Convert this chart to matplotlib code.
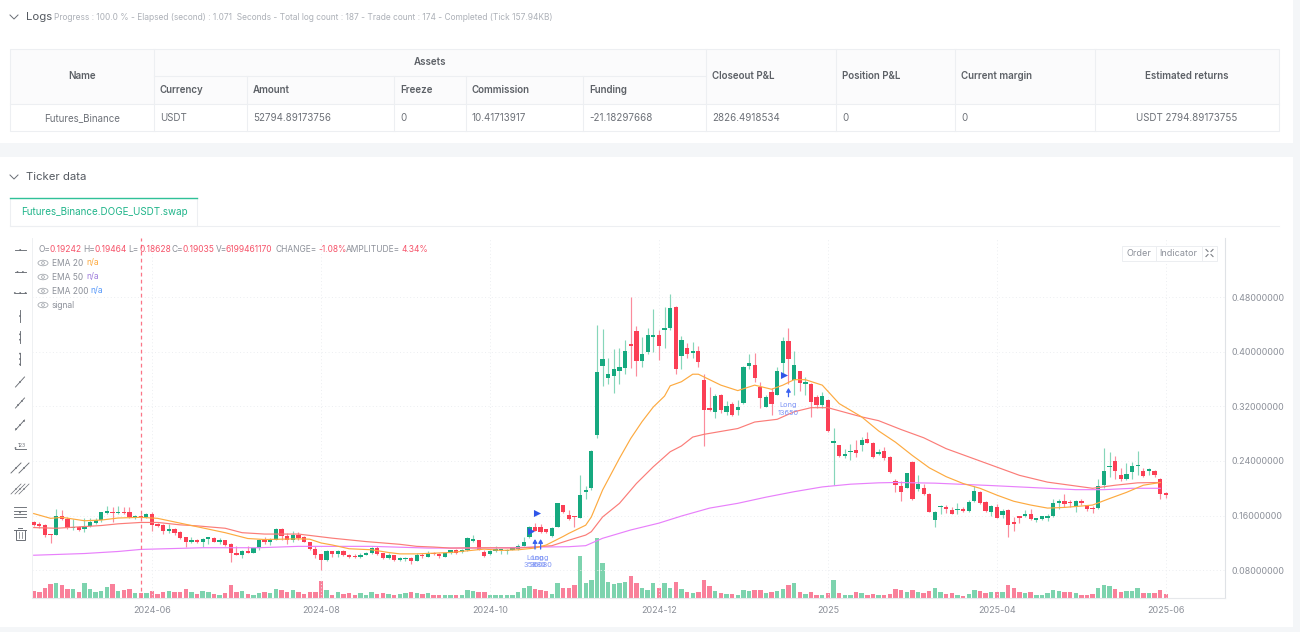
import matplotlib
matplotlib.use("Agg")
import matplotlib.pyplot as plt
from matplotlib.patches import Rectangle, Ellipse, Circle

plt.rcParams['font.family'] = ['Inter', 'DejaVu Sans']

# ---------- chart data (one candle per bar) ----------
opens = [.151,.147,.146,.133,.131,.160,.155,.1415,.1435,.140,.145,.149,.153,.164,.166,.164,.166,.165,.157,.160,
 .158,.163,.148,.146,.137,.141,.136,.128,.121,.124,.122,.126,.1275,.122,.124,.118,.106,.103,.108,.106,
 .112,.125,.122,.125,.141,.130,.125,.132,.1285,.122,.111,.104,.0955,.108,.104,.108,.103,.101,.100,.103,
 .105,.113,.105,.098,.102,.095,.096,.098,.094,.103,.100,.106,.104,.100,.105,.109,.107,.109,.123,.124,
 .107,.104,.108,.109,.108,.110,.111,.116,.128,.143,.143,.140,.130,.144,.175,.161,.159,.157,.195,.201,
 .278,.379,.362,.364,.371,.376,.411,.430,.386,.400,.421,.425,.432,.434,.466,.393,.405,.398,.401,.358,
 .317,.311,.337,.312,.324,.314,.325,.379,.381,.348,.319,.341,.337,.384,.415,.359,.371,.352,.353,.334,
 .322,.329,.267,.263,.247,.253,.256,.264,.272,.267,.250,.255,.246,.210,.203,.201,.239,.199,.201,.192,
 .153,.172,.172,.168,.168,.170,.167,.181,.195,.180,.165,.173,.161,.168,.150,.160,.160,.162,.153,.155,
 .156,.159,.178,.182,.180,.174,.181,.175,.171,.171,.205,.231,.240,.219,.213,.224,.232,.225,.226,.225,
 .214,.19242]
highs = [.152,.150,.1475,.133,.169,.168,.1585,.155,.145,.156,.156,.156,.166,.174,.173,.174,.173,.173,.161,.163,
 .164,.166,.149,.147,.147,.142,.137,.128,.128,.1255,.127,.128,.128,.127,.125,.120,.115,.109,.115,.1125,
 .126,.128,.127,.142,.142,.134,.137,.136,.130,.122,.115,.104,.109,.108,.110,.109,.104,.104,.105,.107,
 .114,.115,.106,.105,.103,.099,.100,.099,.105,.105,.108,.107,.106,.106,.110,.111,.111,.128,.132,.125,
 .109,.110,.115,.111,.111,.112,.119,.128,.145,.149,.148,.141,.143,.179,.176,.168,.160,.219,.203,.256,
 .439,.433,.391,.404,.406,.417,.480,.437,.422,.434,.463,.431,.466,.484,.467,.423,.413,.414,.409,.367,
 .349,.338,.338,.328,.327,.329,.379,.397,.398,.355,.336,.347,.378,.422,.434,.401,.372,.363,.354,.336,
 .341,.330,.288,.263,.258,.265,.270,.275,.283,.268,.257,.261,.247,.213,.210,.223,.240,.219,.207,.193,
 .167,.175,.176,.173,.178,.172,.183,.204,.196,.181,.175,.177,.169,.169,.158,.160,.168,.169,.157,.1595,
 .162,.185,.184,.192,.183,.183,.184,.176,.174,.214,.259,.253,.247,.229,.237,.238,.254,.229,.230,.227,
 .215,.19464]
lows = [.1455,.1415,.129,.120,.131,.154,.1405,.1395,.138,.136,.144,.148,.151,.163,.150,.162,.162,.157,.155,.156,
 .157,.137,.143,.133,.134,.131,.126,.114,.120,.120,.114,.119,.121,.119,.116,.092,.102,.098,.105,.105,
 .110,.118,.117,.124,.125,.119,.122,.125,.121,.110,.098,.080,.093,.100,.099,.101,.098,.098,.098,.102,
 .104,.103,.096,.097,.094,.094,.093,.089,.093,.098,.099,.103,.098,.099,.104,.104,.106,.108,.121,.109,
 .100,.103,.107,.104,.104,.109,.110,.115,.127,.137,.135,.135,.129,.143,.164,.154,.143,.156,.184,.197,
 .274,.350,.352,.339,.353,.367,.376,.364,.377,.396,.399,.388,.406,.431,.367,.375,.391,.391,.377,.262,
 .313,.303,.310,.308,.306,.308,.324,.375,.356,.318,.319,.307,.336,.368,.353,.336,.343,.337,.305,.318,
 .317,.283,.205,.246,.244,.241,.246,.254,.266,.245,.249,.242,.222,.195,.181,.200,.183,.196,.190,.165,
 .143,.163,.164,.162,.163,.165,.166,.180,.177,.166,.160,.156,.157,.129,.137,.149,.158,.154,.151,.153,
 .152,.158,.169,.173,.173,.166,.175,.167,.164,.170,.200,.217,.214,.211,.212,.214,.219,.216,.219,.217,
 .185,.18628]
closes = [.146,.1455,.132,.131,.160,.155,.1415,.1425,.139,.145,.150,.153,.165,.167,.164,.166,.164,.158,.160,.158,
 .163,.146,.145,.137,.141,.134,.127,.121,.124,.121,.126,.1275,.122,.124,.117,.105,.103,.108,.106,.112,
 .125,.121,.125,.141,.130,.125,.131,.127,.122,.111,.103,.0955,.108,.104,.108,.102,.100,.099,.103,.106,
 .113,.104,.098,.102,.095,.098,.098,.093,.103,.101,.106,.104,.101,.105,.109,.106,.109,.127,.126,.110,
 .101,.108,.111,.110,.110,.111,.115,.122,.143,.138,.136,.136,.142,.178,.165,.155,.158,.190,.197,.255,
 .370,.389,.368,.375,.378,.401,.409,.387,.396,.424,.425,.408,.434,.464,.374,.417,.396,.401,.385,.315,
 .315,.335,.314,.320,.307,.319,.378,.384,.362,.332,.334,.323,.372,.416,.389,.380,.354,.355,.327,.322,
 .335,.284,.268,.247,.250,.254,.252,.271,.267,.246,.253,.245,.224,.205,.195,.222,.184,.206,.191,.166,
 .166,.174,.169,.163,.170,.167,.180,.196,.178,.167,.174,.157,.167,.146,.147,.157,.162,.155,.156,.159,
 .160,.178,.182,.177,.178,.182,.178,.169,.169,.203,.226,.233,.226,.213,.221,.233,.234,.218,.227,.219,
 .192,.19035]
volumes = [10,8,14,20,22,19,13,12.5,8,21,12.5,8,10.5,16,20,10.5,11,12.5,7,7,
 7,10.5,6,8,10.5,8,8,12.5,8,6,10,8,6,5,7,19,9,10,6,5,
 7,9,7,12.5,12,9,11,8,6,9,9,25,11.5,5,9,6,7,4,7,4,
 8,6,7,6,5,6,7,8,7,6,7,4,5,4,4,4,5,11,10,8,
 8,5,5,5,5,4,9,14,17,13,12,10,6,21,15,15,19,60,22,26,
 86,50,22.5,20,22,23,31,21,15,11,22,14,22,15,23,13,8,7,9,26,
 17,10,7,6,6,5,11,10,11,12,7,9,10.5,13,19,22,8,6,9,5,
 5,7,26,7,5,5,8,7,5,6,4,5,6,13,12,8,12,9,7,10,
 14,8,6,7,5,3,6,11,10,7,9,9,9,18,14,9,7,8,5,4,
 7,11.5,10,8,8,7,5,5,6,14,18,17,13,8,10,10,14,7,7,7,
 11.5,6.2]

ema20_bars = [0,3,5,9,12,15,19,22,26,30,34,38,41,47,49,51,53,56,60,63,65,68,71,74,77,80,83,86,89,91,94,95,98,99,101,
 104,106,108,110,112,113,115,117,118,119,122,125,128,131,133,135,137,140,143,147,150,153,156,159,162,165,168,171,174,177,180,183,186,188,191,194,197,200]
ema20_vals = [.163,.156,.1575,.1525,.1535,.1565,.1575,.156,.149,.142,.135,.1265,.125,.126,.1255,.120,.117,.1115,.110,.106,.104,.104,.105,.106,.1085,.111,.109,.110,.1125,.117,.1295,.134,.146,.158,.1975,
 .244,.273,.2975,.319,.335,.350,.356,.367,.367,.363,.351,.343,.351,.345,.351,.359,.359,.351,.324,.3045,.284,.2675,.248,.230,.217,.207,.200,.190,.181,.1755,.171,.172,.174,.1755,.185,.194,.2045,.2085]

ema50_bars = [0,4,9,12,15,19,22,26,29,34,37,41,47,53,59,65,68,71,74,80,86,89,92,95,98,99,101,104,107,110,113,115,117,119,125,128,132,135,138,141,147,150,154,158,162,167,171,175,180,184,188,192,196,200]
ema50_vals = [.1425,.1415,.144,.1455,.148,.150,.150,.1465,.145,.1415,.135,.133,.133,.127,.122,.118,.115,.114,.1125,.113,.1125,.114,.116,.124,.1315,.1365,.158,.178,.207,.2315,.2535,.262,.275,.279,.2875,.297,.301,.312,.318,.318,.3045,.299,.286,.274,.258,.243,.231,.219,.209,.2045,.200,.2045,.208,.2085]

ema200_bars = [0,9,15,19,30,40,47,60,70,80,90,95,98,101,106,111,115,120,125,130,135,140,145,150,153,160,170,180,185,190,195,200]
ema200_vals = [.102,.1045,.1075,.1105,.113,.113,.115,.115,.1125,.1125,.114,.1145,.116,.1268,.139,.149,.1594,.171,.178,.187,.195,.202,.206,.208,.2085,.2075,.204,.200,.198,.198,.200,.200]

entry_bars = [88.3,89.3,133.2]
entry_prices = [.138,.1636,.366]
long_bars = [89,90,134]
long_tips = [.1257,.1257,.347]
long_tails = [.111,.111,.334]
long_labels = ["Long\n35880","Long\n36080","Long\n13650"]

price_ticks = [.08,.16,.24,.32,.40,.48]
date_bars = [21,51,81,111,141,171,201]
date_labels = ["2024-06","2024-08","2024-10","2024-12","2025","2025-04","2025-06"]
crosshair_bar = 19

# ---------- table content ----------
table_top = ["Name","Assets","Closeout P&L","Position P&L","Current margin","Estimated returns"]
table_sub = ["Currency","Amount","Freeze","Commission","Funding"]
table_row = ["Futures_Binance","USDT","52794.89173756","0","10.41713917","-21.18297668","2826.4918534","0","0","USDT 2794.89173755"]

UP, DOWN = "#16a97f", "#fb3f55"
UP_W, DOWN_W = "#86d6ba", "#fb8c9c"
UP_V, DOWN_V = "#7dd3ae", "#f9809a"
GRAY = "#8c9099"
DARK = "#5c6066"

W, H = 1300, 632
fig = plt.figure(figsize=(W/100, H/100), dpi=100, facecolor="white")

# ---------- page chrome, pixel coordinates ----------
pg = fig.add_axes([0, 0, 1, 1])
pg.set_xlim(0, W); pg.set_ylim(H, 0); pg.axis("off")
BAND = "#f4f6f8"
pg.add_patch(Rectangle((0, 143), W, 14, fc=BAND, ec="none"))
pg.add_patch(Rectangle((1293, 0), 7, H, fc=BAND, ec="none"))
pg.add_patch(Rectangle((0, 627), W, 5, fc=BAND, ec="none"))

def t(x, y, s, c=DARK, fs=7.0, ha="left", w="normal"):
    pg.text(x, y, s, color=c, fontsize=fs, ha=ha, va="center", fontweight=w)

def chevron(x, y):
    pg.plot([x-4, x, x+4], [y-2, y+2, y-2], color="#6a6e75", lw=0.7)

chevron(14, 17); chevron(14, 177)
t(26, 17.5, "Logs", "#555a61", 8.2)
t(54, 18, "Progress : 100.0 % - Elapsed (second) : 1.071  Seconds - Total log count : 187 - Trade count : 174 - Completed (Tick 157.94KB)", "#adb1b8", 6.05)
t(26, 177.5, "Ticker data", "#555a61", 8.2)

LINE = "#edeff2"
pg.add_patch(Rectangle((10, 49), 1269, 55, fc="#fbfbfc", ec="none"))
pg.add_patch(Rectangle((10, 49), 1269, 82, fc="none", ec=LINE, lw=0.8))
for xb, y0, y1 in [(154,49,131),(247,76,131),(394,76,131),(466,76,131),(583,76,131),(706,49,131),(836,49,131),(955,49,131),(1095,49,131)]:
    pg.plot([xb, xb], [y0, y1], color=LINE, lw=0.8)
pg.plot([154, 706], [76, 76], color=LINE, lw=0.8)
pg.plot([10, 1279], [104, 104], color=LINE, lw=0.8)
t(82, 76, table_top[0], ha="center", w="semibold")
t(430, 62, table_top[1], ha="center", w="semibold")
for x, s in zip([712, 842, 961], table_top[2:5]):
    t(x, 76, s, w="semibold")
t(1187, 76, table_top[5], ha="center", w="semibold")
for x, s in zip([160, 253, 400, 472, 589], table_sub):
    t(x, 90, s, w="semibold")
t(82, 118, table_row[0], "#6d7178", ha="center")
for x, s in zip([160, 253, 400, 472, 589, 712, 842, 961], table_row[1:9]):
    t(x, 118, s, "#6d7178")
t(1187, 118, table_row[9], "#6d7178", ha="center")

pg.plot([10, 1279], [226, 226], color=LINE, lw=0.8)
pg.add_patch(Rectangle((10, 198), 187, 28, fc="white", ec=LINE, lw=0.8))
pg.plot([10, 197], [198, 198], color="#2fc198", lw=1.0)
t(21, 212, "Futures_Binance.DOGE_USDT.swap", "#21b58a", 7.1)

# toolbar icons
IC = "#6a6e75"
ILW = 0.65
def dot(x, y, r=0.9):
    pg.add_patch(Circle((x, y), r, fc=IC, ec="none"))
for y, n in [(250,1),(272,2),(293,3)]:
    pg.plot([14.5, 26], [y, y], color=IC, lw=ILW)
    for k in range(n):
        dot(20.2 + (k - (n-1)/2)*5.4, y)
for y, n in [(316,1),(337,2),(359,3)]:
    pg.plot([20, 20], [y-6, y+6], color=IC, lw=ILW)
    for k in range(n):
        dot(20, y + (k - (n-1)/2)*5.4)
for y, n in [(382,1),(403,2),(425,3)]:
    pg.plot([15.5, 24.5], [y+5, y-5], color=IC, lw=ILW)
    for k in range(n):
        o = (k - (n-1)/2)*4
        dot(20 + o, y - o)
pg.plot([15, 26], [449, 449], color=IC, lw=ILW)
pg.text(21.5, 445.5, "123", fontsize=3.6, color=IC, ha="center", va="center")
dot(15.5, 448)
for dx in (-4, 4):
    pg.plot([15+dx, 25+dx], [473, 463], color=IC, lw=ILW)
    dot(20+dx, 468, 0.9)
for dx in (-4, 0, 4):
    pg.plot([15+dx, 25+dx], [494, 484], color=IC, lw=0.5)
    dot(20+dx, 489, 0.8)
for y in (507, 510.5, 514, 517):
    pg.plot([14, 26], [y, y], color=IC, lw=ILW)
dot(20, 512.5)
pg.add_patch(Rectangle((15.5, 529.5), 9, 10.5, fc="none", ec=IC, lw=0.7))
pg.plot([14, 26], [529.5, 529.5], color=IC, lw=0.7)
pg.plot([18, 22], [527.5, 527.5], color=IC, lw=0.7)
for x in (18.5, 21.5):
    pg.plot([x, x], [532, 538], color=IC, lw=0.5)

# ---------- volume axes, behind the price axes ----------
rect = [32/W, 1 - 598/H, (1225-32)/W, (598-238)/H]
xlim = (-0.302, 211.5)
axv = fig.add_axes(rect, zorder=1)
axv.set_xlim(*xlim); axv.set_ylim(0, 518); axv.axis("off")
xs = list(range(len(closes)))
axv.bar(xs, volumes, width=0.78, color=[UP_V if c >= o else DOWN_V for o, c in zip(opens, closes)], lw=0)

# ---------- price axes ----------
ax = fig.add_axes(rect, zorder=2)
ax.patch.set_alpha(0)
ax.set_xlim(*xlim); ax.set_ylim(.0394, .5664)
ax.yaxis.tick_right()
ax.set_yticks(price_ticks)
ax.set_yticklabels([f"{v:.8f}" for v in price_ticks], fontsize=6.4, color=GRAY)
ax.set_xticks(date_bars)
ax.set_xticklabels(date_labels, fontsize=6.5, color=GRAY)
ax.tick_params(axis="both", length=0)
ax.tick_params(axis="y", pad=4.5)
ax.tick_params(axis="x", pad=6)
ax.grid(True, color="#eceef1", lw=0.7, ls=(0, (1, 2.5)))
ax.set_axisbelow(True)
ax.spines["top"].set_visible(False)
ax.spines["left"].set_color("#eef0f2"); ax.spines["left"].set_linewidth(0.7)
ax.spines["right"].set_color("#dfe2e6"); ax.spines["right"].set_linewidth(0.8)
ax.spines["bottom"].set_color("#e6e8eb"); ax.spines["bottom"].set_linewidth(0.8)

ax.axvline(crosshair_bar, color="#fb7486", lw=0.9, ls=(0, (3, 2.6)), zorder=6)

for i, (o, h, l, c) in enumerate(zip(opens, highs, lows, closes)):
    up = c >= o
    ax.vlines(i, l, h, color=UP_W if up else DOWN_W, lw=0.85, zorder=3)
    body = max(abs(c - o), .002)
    ax.bar(i, body, bottom=min(o, c), width=0.76, color=UP if up else DOWN, lw=0, zorder=4)

ax.plot(ema200_bars, ema200_vals, color="#e880fb", lw=0.85, zorder=5)
ax.plot(ema50_bars, ema50_vals, color="#fb7c78", lw=0.85, zorder=5)
ax.plot(ema20_bars, ema20_vals, color="#fdaa40", lw=0.85, zorder=5)

ax.scatter(entry_bars, entry_prices, marker=">", s=26, color="#2f55e8", lw=0, zorder=7)
for b, tip, tail, lab in zip(long_bars, long_tips, long_tails, long_labels):
    ax.annotate("", xy=(b, tip), xytext=(b, tail),
                arrowprops=dict(arrowstyle="-|>,head_width=0.13,head_length=0.22", color="#3a62f0", lw=0.9, shrinkA=0, shrinkB=0), zorder=7)
    ax.annotate(lab, xy=(b, tail), xytext=(0, -4), textcoords="offset points", ha="center", va="top",
                fontsize=5.3, color="#7f95f5", linespacing=1.25, zorder=7)

# ---------- legend, over the chart ----------
top = fig.add_axes([0, 0, 1, 1], zorder=3)
top.set_xlim(0, W); top.set_ylim(H, 0); top.axis("off"); top.patch.set_alpha(0)
def tt(x, y, s, c=GRAY, fs=6.05, ha="left"):
    top.text(x, y, s, color=c, fontsize=fs, ha=ha, va="center")
RED = "#f6546a"
for x, s, c in [(38.5,"O=",GRAY),(50,"0.19242",RED),(83,"H=",GRAY),(94.5,"0.19464",RED),(128,"L=",GRAY),(139,"0.18628",RED),
                (171,"C=",GRAY),(182.5,"0.19035",RED),(215.5,"V=",GRAY),(226,"6199461170",RED),(276,"CHANGE=",GRAY),(318.5,"-1.08%",RED),
                (346,"AMPLITUDE=",GRAY),(402,"4.34%",RED)]:
    tt(x, 249, s, c)
for y, s in [(263,"EMA 20"),(277,"EMA 50"),(291,"EMA 200"),(305,"signal")]:
    top.add_patch(Ellipse((43, y), 10, 5.5, fc="none", ec="#a6aab0", lw=0.6))
    top.add_patch(Circle((43, y), 1.4, fc="none", ec="#a6aab0", lw=0.6))
    tt(52, y, s)
tt(86, 263, "n/a", "#fdaa40"); tt(86, 277, "n/a", "#a07fdc"); tt(90, 291, "n/a", "#5b9bfa")

top.add_patch(Rectangle((1122, 245.5), 95, 15.5, fc="white", ec="#eceef1", lw=0.7))
for x in (1155.5, 1201.5):
    top.plot([x, x], [245.5, 261], color="#eceef1", lw=0.7)
tt(1139, 253, "Order", "#8c9099", 6.5, "center")
tt(1178, 253, "Indicator", "#8c9099", 6.5, "center")
for sx, sy in [(-1,-1),(1,-1),(-1,1),(1,1)]:
    cx, cy = 1209.5 + sx*3.5, 253 + sy*3.5
    top.plot([cx, cx-sx*2], [cy, cy-sy*2], color="#7a7e85", lw=0.8)

fig.savefig("out.png", dpi=100, facecolor="white")
